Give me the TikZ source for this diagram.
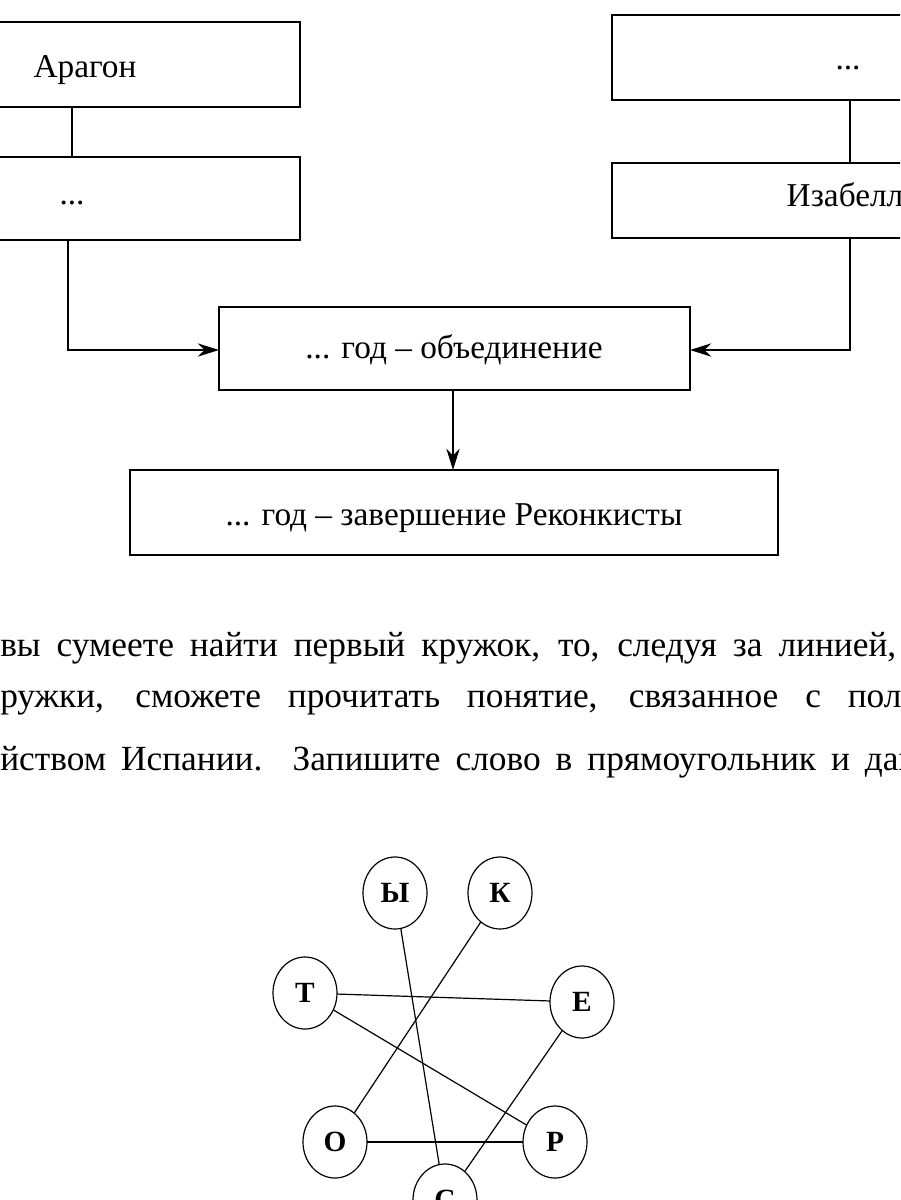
\documentclass[tikz,border=0pt]{standalone}
\usepackage{fontspec}
\setmainfont{Liberation Serif}
\usetikzlibrary{arrows.meta,shapes.geometric}
\begin{document}
\begin{tikzpicture}[x=0.75pt,y=-0.75pt,
  box/.style={draw,line width=0.9pt,inner sep=0pt},
  txt/.style={font=\fontsize{25}{28}\selectfont},
  para/.style={font=\fontsize{26.5}{30}\selectfont,anchor=west,inner sep=0pt},
  circ/.style={draw,ellipse,line width=0.9pt,minimum width=48pt,minimum height=54pt,inner sep=0pt,font=\bfseries\fontsize{22}{24}\selectfont,fill=white},
  conn/.style={line width=0.9pt},
  arr/.style={conn,-{Stealth[length=16pt,width=10pt]}}]
\useasboundingbox (0,0) rectangle (900,1200);
\clip (0,0) rectangle (900,1200);
\draw[box] (-5,22) rectangle (300,107);
\node[txt] (ar) at (85,70) {Арагон};
\draw[box] (-5,157) rectangle (300,240);
\node[txt] (d1) at (72,203) {...};
\draw[box] (612,15) rectangle (905,100);
\node[txt] (d2) at (848,68) {...};
\draw[box] (612,163) rectangle (905,238);
\node[txt,anchor=west] (iz) at (782,195) {Изабелла};
\draw[box] (219,307) rectangle (690,390);
\node[txt] (ob) at (454,350) {... год – объединение};
\draw[box] (130,470) rectangle (778,555);
\node[txt] (re) at (454,518) {... год – завершение Реконкисты};
\coordinate (a1) at (72,107); \coordinate (a2) at (72,157);
\draw[conn] (a1)--(a2);
\coordinate (b1) at (68,240); \coordinate (b2) at (219,350);
\draw[arr] (b1)|-(b2);
\coordinate (c1) at (850,100); \coordinate (c2) at (850,163);
\draw[conn] (c1)--(c2);
\coordinate (e1) at (850,238); \coordinate (e2) at (690,350);
\draw[arr] (e1)|-(e2);
\coordinate (f1) at (453,390); \coordinate (f2) at (453,470);
\draw[arr] (f1)--(f2);
\node[para] (p1) at (0,648) {\makebox[672pt][s]{вы сумеете найти первый кружок, то, следуя за линией,}};
\node[para] (p2) at (0,703) {\makebox[676pt][s]{ружки, сможете прочитать понятие, связанное с пол}};
\node[para] (p3) at (0,762) {\makebox[688pt][s]{йством Испании. Запишите слово в прямоугольник и дай}};
\coordinate (Yp) at (395,893); \coordinate (Kp) at (500,893);
\coordinate (Tp) at (305,993); \coordinate (Ep) at (582,1002);
\coordinate (Op) at (335,1142); \coordinate (Rp) at (555,1142);
\coordinate (Sp) at (445,1200);
\draw[conn] (Yp)--(Sp); \draw[conn] (Kp)--(Op); \draw[conn] (Tp)--(Ep);
\draw[conn] (Tp)--(Rp); \draw[conn] (Ep)--(Sp); \draw[conn] (Op)--(Rp);
\node[circ] (Y) at (Yp) {Ы};
\node[circ] (K) at (Kp) {К};
\node[circ] (T) at (Tp) {Т};
\node[circ] (E) at (Ep) {Е};
\node[circ] (O) at (Op) {О};
\node[circ] (R) at (Rp) {Р};
\node[circ] (S) at (Sp) {С};
\end{tikzpicture}
\end{document}
